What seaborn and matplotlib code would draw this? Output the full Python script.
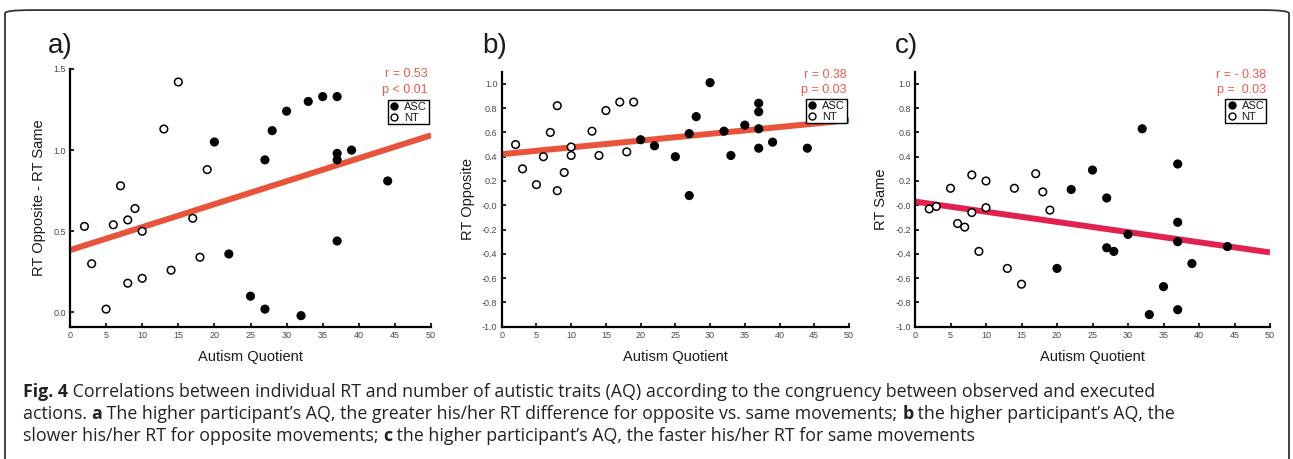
import numpy as np
import pandas as pd
import matplotlib
matplotlib.use("Agg")
import matplotlib.pyplot as plt
import seaborn as sns
from matplotlib.lines import Line2D
from matplotlib.patches import FancyBboxPatch

# ---------------- data ----------------
aq_nt = [2, 3, 5, 6, 7, 8, 8, 9, 10, 10, 13, 14, 15, 17, 18, 19]
aq_asc = [20, 22, 25, 27, 27, 28, 30, 32, 33, 35, 37, 37, 37, 37, 39, 44]

diff_nt = [0.53, 0.30, 0.02, 0.54, 0.78, 0.57, 0.18, 0.64, 0.50, 0.21, 1.13, 0.26, 1.42, 0.58, 0.34, 0.88]
diff_asc = [1.05, 0.36, 0.10, 0.02, 0.94, 1.12, 1.24, -0.02, 1.30, 1.33, 1.33, 0.98, 0.94, 0.44, 1.00, 0.81]

opp_nt = [0.50, 0.30, 0.17, 0.40, 0.60, 0.82, 0.12, 0.27, 0.48, 0.41, 0.61, 0.41, 0.78, 0.85, 0.44, 0.85]
opp_asc = [0.54, 0.49, 0.40, 0.59, 0.08, 0.73, 1.01, 0.61, 0.41, 0.66, 0.84, 0.77, 0.63, 0.47, 0.52, 0.47]

same_nt = [-0.03, -0.01, 0.14, -0.15, -0.18, 0.25, -0.06, -0.38, 0.20, -0.02, -0.52, 0.14, -0.65, 0.26, 0.11, -0.04]
same_asc = [-0.52, 0.13, 0.29, 0.06, -0.35, -0.38, -0.24, 0.63, -0.90, -0.67, 0.34, -0.14, -0.30, -0.86, -0.48, -0.34]

panel_letters = ["a)", "b)", "c)"]
y_labels = ["RT Opposite - RT Same", "RT Opposite", "RT Same"]
stats_text = [["r = 0.53", "p < 0.01"], ["r = 0.38", "p = 0.03"], ["r = - 0.38", "p =  0.03"]]
x_label = "Autism Quotient"
groups = ["ASC", "NT"]

# ---------------- style ----------------
sns.set_theme(style="ticks")
plt.rcParams["font.family"] = ["Liberation Sans", "DejaVu Sans"]
plt.rcParams["axes.unicode_minus"] = False

W, H = 1293, 459
fig = plt.figure(figsize=(W / 100, H / 100), dpi=100)
fig.patch.set_facecolor("white")

# outer rounded frame
frame = FancyBboxPatch((5 / W, -0.2), (1284 / W), 1.178,
                       boxstyle="round,pad=0,rounding_size=0.02",
                       transform=fig.transFigure, fill=False,
                       edgecolor="#333333", linewidth=1.3, mutation_aspect=H / W)
fig.add_artist(frame)

axes_pos = [
    [70 / W, 1 - 327 / H, 361 / W, 258 / H],
    [501.7 / W, 1 - 326.7 / H, 347.3 / W, 255 / H],
    [915 / W, 1 - 326.7 / H, 355 / W, 255 / H],
]
line_colors = ["#E8533A", "#E8533A", "#E0234E"]
text_color = "#EE5B4B"
ylims = [(-0.09, 1.5), (-1.0, 1.1), (-1.0, 1.1)]
yticks = [np.arange(0, 1.51, 0.5), np.arange(-1.0, 1.01, 0.2), np.arange(-1.0, 1.01, 0.2)]
series = [(diff_nt, diff_asc), (opp_nt, opp_asc), (same_nt, same_asc)]
leg_anchor = [(0.994, 0.88), (0.994, 0.893), (0.989, 0.893)]
txt_pos = [(0.992, 0.98, 0.919), (0.994, 0.987, 0.928), (0.99, 0.987, 0.928)]
letter_x = [48, 482, 895]

for i in range(3):
    ax = fig.add_axes(axes_pos[i])
    nt_vals, asc_vals = series[i]
    df = pd.DataFrame({
        "aq": aq_nt + aq_asc,
        "val": nt_vals + asc_vals,
        "group": ["NT"] * len(aq_nt) + ["ASC"] * len(aq_asc),
    })
    ax.set_xlim(0, 50)
    ax.set_ylim(*ylims[i])
    sns.regplot(data=df, x="aq", y="val", scatter=False, ci=None, truncate=False,
                line_kws=dict(color=line_colors[i], lw=4.3, solid_capstyle="butt", zorder=2),
                ax=ax)
    sns.scatterplot(data=df, x="aq", y="val", hue="group",
                    palette={"ASC": "black", "NT": "white"},
                    edgecolor="black", linewidth=1.1, s=30, legend=False,
                    ax=ax, zorder=3)
    ax.set_xlim(0, 50)
    ax.set_ylim(*ylims[i])
    ax.set_xticks(np.arange(0, 51, 5))
    ax.set_yticks(yticks[i])
    ax.set_yticklabels([f"{v:.1f}" for v in yticks[i]])
    sns.despine(ax=ax)
    for sp in ["left", "bottom"]:
        ax.spines[sp].set_linewidth(1.6)
        ax.spines[sp].set_color("black")
    ax.tick_params(direction="in", length=3, width=1.2, color="black",
                   labelsize=6.5, labelcolor="#4a4a4a", pad=3)
    ax.set_xlabel(x_label, fontsize=10.5, color="#1a1a1a", labelpad=7)
    ax.set_ylabel(y_labels[i], fontsize=10.5, color="#1a1a1a", labelpad=5)
    ax.set_facecolor("white")

    handles = [
        Line2D([], [], marker="o", linestyle="", markerfacecolor="black",
               markeredgecolor="black", markersize=5, label="ASC"),
        Line2D([], [], marker="o", linestyle="", markerfacecolor="white",
               markeredgecolor="black", markeredgewidth=1.0, markersize=5, label="NT"),
    ]
    leg = ax.legend(handles=handles, loc="upper right", bbox_to_anchor=leg_anchor[i],
                    frameon=True, fancybox=False, fontsize=8, borderpad=0.15,
                    labelspacing=0.1, handlelength=0.8, handletextpad=0.5,
                    borderaxespad=0, framealpha=1)
    leg.get_frame().set_edgecolor("black")
    leg.get_frame().set_linewidth(1.0)
    for t in leg.get_texts():
        t.set_color("#1a1a1a")

    tx, ty1, ty2 = txt_pos[i]
    ax.text(tx, ty1, stats_text[i][0], transform=ax.transAxes, ha="right", va="center",
            fontsize=9, color=text_color)
    ax.text(tx, ty2, stats_text[i][1], transform=ax.transAxes, ha="right", va="center",
            fontsize=9, color=text_color)

    fig.text(letter_x[i] / W, 1 - 46 / H, panel_letters[i], fontsize=20,
             ha="left", va="center", color="#1a1a1a")

# ---------------- caption ----------------
cap_lines = [
    [("Fig. 4", True), (" Correlations between individual RT and number of autistic traits (AQ) according to the congruency between observed and executed", False)],
    [("actions. ", False), ("a", True), (" The higher participant\u2019s AQ, the greater his/her RT difference for opposite vs. same movements; ", False),
     ("b", True), (" the higher participant\u2019s AQ, the", False)],
    [("slower his/her RT for opposite movements; ", False), ("c", True), (" the higher participant\u2019s AQ, the faster his/her RT for same movements", False)],
]
cap_y = [392, 414, 436]
renderer = fig.canvas.get_renderer()
for line, yy in zip(cap_lines, cap_y):
    x = 23
    for txt, bold in line:
        t = fig.text(x / W, 1 - yy / H, txt, fontsize=12.75,
                     family=["Open Sans", "DejaVu Sans"],
                     weight="bold" if bold else "normal",
                     ha="left", va="center", color="#222222")
        bb = t.get_window_extent(renderer=renderer)
        x += bb.width

fig.savefig("out.png", dpi=100, facecolor="white")
